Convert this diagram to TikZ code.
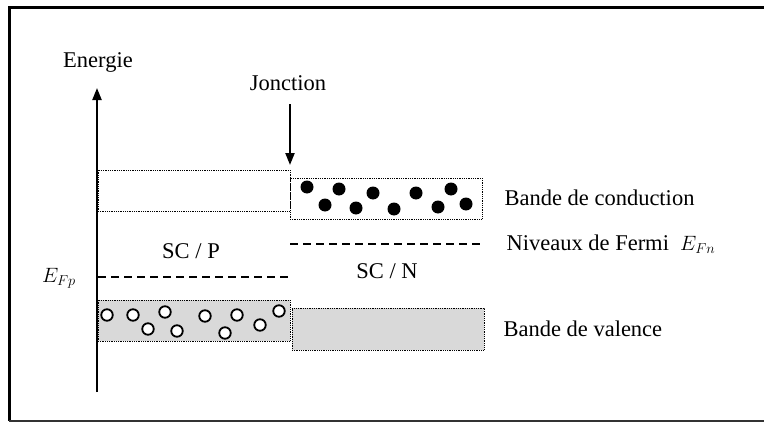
\documentclass[tikz,border=0pt]{standalone}
\usepackage{fontspec}
\setmainfont{Liberation Serif}
\usepackage{tikz}
\usetikzlibrary{arrows.meta, positioning}

\begin{document}
\begin{tikzpicture}[
        x=1pt, y=-1pt,
        every node/.style={font=\fontsize{22.5}{27}\selectfont},
        band/.style={rectangle, draw=black, densely dotted, line width=0.8pt, inner sep=0pt},
        valband/.style={band, fill=gray!30},
        fermi/.style={dashed, line width=1.6pt, dash pattern=on 8pt off 5pt},
        axis/.style={-{Triangle[length=12pt, width=9pt]}, line width=2.2pt},
        electron/.style={circle, fill=black, inner sep=0pt, minimum size=13pt},
        hole/.style={circle, draw=black, fill=white, line width=1.8pt, inner sep=0pt, minimum size=11.5pt}
    ]
        \useasboundingbox (0,0) rectangle (764,423);

        % Cadre
        \draw[line width=3pt] (780,7) -- (9,7) -- (9,421);
        \draw[line width=2pt, black!80] (9,421) -- (780,421);

        % Axe des energies
        \node (energie) at (98,62) {Energie};
        \coordinate (axebas) at (97,392);
        \coordinate (axehaut) at (97,88);
        \draw[axis] (axebas) -- (axehaut);

        % Jonction
        \node (jonction) at (288,83) {Jonction};
        \coordinate (jdebut) at (290,104);
        \coordinate (jfin) at (290,165);
        \draw[axis] (jdebut) -- (jfin);

        % Bandes cote P
        \node[band, minimum width=192pt, minimum height=41pt] (bcP) at (194,190.5) {};
        \node[valband, minimum width=192pt, minimum height=41pt] (bvP) at (194,320.5) {};
        % Bandes cote N
        \node[band, minimum width=192pt, minimum height=41pt] (bcN) at (386,198.5) {};
        \node[valband, minimum width=192pt, minimum height=42pt] (bvN) at (388,329) {};

        % Niveaux de Fermi
        \coordinate (fpA) at (98,277);
        \coordinate (fpB) at (288,277);
        \draw[fermi] (fpA) -- (fpB);
        \coordinate (fnA) at (290,244);
        \coordinate (fnB) at (481,244);
        \draw[fermi] (fnA) -- (fnB);

        % Electrons
        \foreach \ex/\ey in {307/187, 339/189, 325/205, 356/208, 373/193,
                             394/209, 416/193, 438/207, 451/189, 466/204}
            \node[electron] at (\ex,\ey) {};

        % Trous
        \foreach \hx/\hy in {107/315, 133/315, 165/312, 148/329, 177/331,
                             205/316, 237/315, 225/333, 260/325, 279/311}
            \node[hole] at (\hx,\hy) {};

        % Legendes
        \node (scp) at (191,251) {SC / P};
        \node (scn) at (387,271) {SC / N};
        \node (efp) at (59,278) {$E_{Fp}$};
        \node[anchor=west] (lbc) at (501,198) {Bande de conduction};
        \node[anchor=west] (lfermi) at (503,244) {Niveaux de Fermi\ \ $E_{Fn}$};
        \node[anchor=west] (lbv) at (500,329) {Bande de valence};

    \end{tikzpicture}
\end{document}
